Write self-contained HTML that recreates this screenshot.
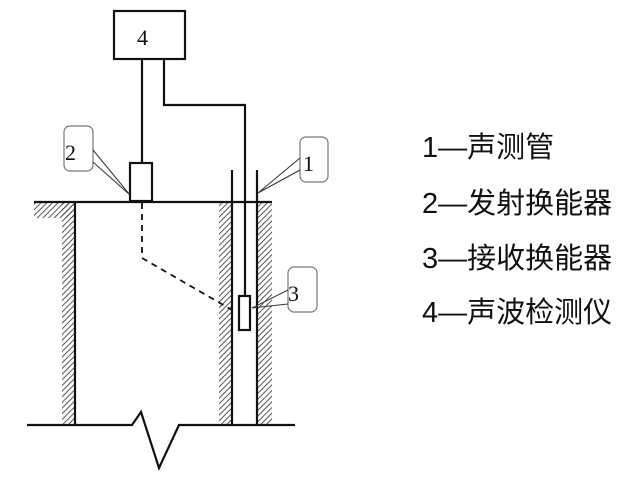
<!DOCTYPE html>
<html><head><meta charset="utf-8"><style>
html,body{margin:0;padding:0;background:#fff;}
svg{display:block}
.s{font-family:"Liberation Sans","Noto Sans CJK SC",sans-serif;}
.n{font-family:"Liberation Serif",serif;}
</style></head><body>
<svg width="640" height="479" viewBox="0 0 640 479" xmlns="http://www.w3.org/2000/svg">
<defs>
<pattern id="h" width="4" height="4" patternUnits="userSpaceOnUse" patternTransform="rotate(45)">
<line x1="0" y1="0" x2="0" y2="4" stroke="#444" stroke-width="1.8"/>
</pattern>
</defs>
<rect width="640" height="479" fill="#fff"/>
<rect x="34" y="203" width="41" height="15" fill="url(#h)"/>
<rect x="62" y="203" width="13" height="222" fill="url(#h)"/>
<rect x="219" y="203" width="13" height="222" fill="url(#h)"/>
<rect x="258" y="203" width="14" height="222" fill="url(#h)"/>
<g stroke="#111" stroke-width="2.2" fill="none">
<rect x="114" y="11" width="71" height="48" fill="#fff"/>
<line x1="142" y1="59" x2="142" y2="163"/>
<polyline points="164,59 164,105 245,105 245,296"/>
<rect x="130" y="163" width="22" height="38" fill="#fff"/>
<rect x="239" y="296" width="11" height="34" fill="#fff"/>
<line x1="34" y1="202" x2="272" y2="202"/>
<line x1="75" y1="202" x2="75" y2="425"/>
<line x1="232" y1="170" x2="232" y2="425"/>
<line x1="257" y1="170" x2="257" y2="425"/>
<polyline points="27,425 132,425 141,412 159,468 179,425 295,425"/>
</g>
<polyline points="142,203 142,258 232,310" stroke="#111" stroke-width="1.8" fill="none" stroke-dasharray="6,5"/>
<g stroke="#777" stroke-width="1.2" fill="#fff">
<rect x="64" y="126" width="29" height="45" rx="6"/>
<rect x="300" y="137" width="28" height="45" rx="6"/>
<rect x="288" y="267" width="29" height="45" rx="6"/>
</g>
<g stroke="#333" stroke-width="1" fill="none">
<polyline points="93,150 130,195 93,162"/>
<polyline points="300,158 258,193 300,170"/>
<polyline points="288,290 252,308 288,304"/>
</g>
<g class="n" font-size="22" fill="#111">
<text class="n" x="137" y="45">4</text>
<text class="n" x="65" y="160">2</text>
<text class="n" x="303" y="171">1</text>
<text class="n" x="288" y="301">3</text>
</g>
<g class="s" font-size="29" fill="#111">
<text class="s" x="422" y="157">1—声测管</text>
<text class="s" x="422" y="213">2—发射换能器</text>
<text class="s" x="422" y="268">3—接收换能器</text>
<text class="s" x="422" y="322">4—声波检测仪</text>
</g>
</svg>
</body></html>
